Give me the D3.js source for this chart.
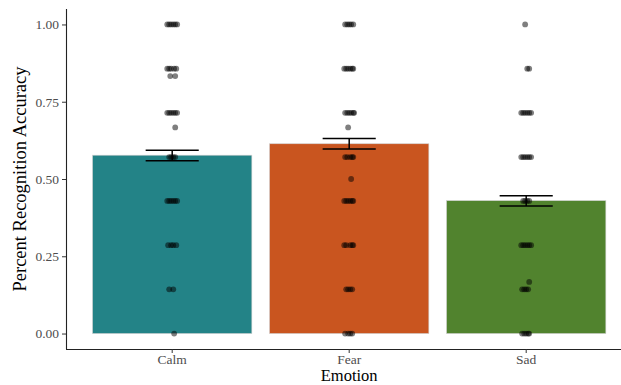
<!DOCTYPE html>
<html>
<head>
<meta charset="utf-8">
<script src="https://cdn.jsdelivr.net/npm/d3@7"></script>
<style>
  body { margin: 0; background: #fff; }
  svg { display: block; }
</style>
</head>
<body>
<svg id="chart" width="621" height="385"></svg>
<script>
// categories and summary values
var categories = ["Calm", "Fear", "Sad"];
var means = [0.577, 0.614, 0.430];
var errLow = [0.559, 0.597, 0.413];
var errHigh = [0.593, 0.631, 0.446];
var barColors = ["#238387", "#c9551f", "#51832e"];
var yTicks = [0, 0.25, 0.5, 0.75, 1];

// individual scores: [accuracy, horizontal jitter in category units]
var calmPoints = [
  [1, -0.028], [1, -0.017], [1, -0.006], [1, 0.006], [1, 0.017], [1, 0.028],
  [0.857, -0.028], [0.857, -0.017], [0.857, -0.006], [0.857, 0.011], [0.857, 0.023],
  [0.833, -0.011], [0.833, 0.017],
  [0.714, -0.028], [0.714, -0.017], [0.714, -0.006], [0.714, 0.006], [0.714, 0.017], [0.714, 0.028],
  [0.667, 0.017],
  [0.571, -0.017], [0.571, -0.006], [0.571, 0.006], [0.571, 0.017],
  [0.429, -0.028], [0.429, -0.017], [0.429, -0.006], [0.429, 0.006], [0.429, 0.017], [0.429, 0.028],
  [0.286, -0.023], [0.286, -0.006], [0.286, 0.006], [0.286, 0.023],
  [0.143, -0.017], [0.143, 0.006],
  [0, 0.011]
];
var fearPoints = [
  [1, -0.023], [1, -0.011], [1, 0], [1, 0.011], [1, 0.023],
  [0.857, -0.028], [0.857, -0.017], [0.857, -0.006], [0.857, 0.006], [0.857, 0.017], [0.857, 0.023],
  [0.714, -0.023], [0.714, -0.011], [0.714, 0], [0.714, 0.011], [0.714, 0.023], [0.714, 0.028],
  [0.667, -0.006],
  [0.571, -0.023], [0.571, -0.011], [0.571, 0.006], [0.571, 0.017], [0.571, 0.023],
  [0.5, 0.011],
  [0.429, -0.028], [0.429, -0.017], [0.429, -0.006], [0.429, 0.006], [0.429, 0.017], [0.429, 0.023],
  [0.286, -0.028], [0.286, -0.017], [0.286, 0.006], [0.286, 0.017], [0.286, 0.023],
  [0.143, -0.017], [0.143, -0.006], [0.143, 0.006], [0.143, 0.017],
  [0, -0.023], [0, -0.006], [0, 0.006], [0, 0.017]
];
var sadPoints = [
  [1, -0.006],
  [0.857, 0.006], [0.857, 0.017],
  [0.714, -0.028], [0.714, -0.017], [0.714, -0.006], [0.714, 0.006], [0.714, 0.017], [0.714, 0.028],
  [0.571, -0.028], [0.571, -0.017], [0.571, -0.006], [0.571, 0.006], [0.571, 0.017], [0.571, 0.028],
  [0.429, -0.017], [0.429, -0.006], [0.429, 0.006], [0.429, 0.017],
  [0.286, -0.028], [0.286, -0.017], [0.286, -0.006], [0.286, 0.006], [0.286, 0.017], [0.286, 0.028],
  [0.167, 0.017],
  [0.143, -0.023], [0.143, -0.011], [0.143, 0], [0.143, 0.011],
  [0, -0.023], [0, -0.011], [0, 0], [0, 0.011], [0, 0.017]
];

var data = categories.map(function(c, i) {
  return {name: c, mean: means[i], lo: errLow[i], hi: errHigh[i], color: barColors[i]};
});
var points = [];
[calmPoints, fearPoints, sadPoints].forEach(function(arr, i) {
  arr.forEach(function(p) { points.push({name: categories[i], value: p[0], jit: p[1]}); });
});

var serif = "'Liberation Serif', 'DejaVu Serif', serif";
var svg = d3.select("#chart"),
    left = 66, bottom = 349;

var x = d3.scaleBand().domain(categories).range([left, 632.4])
    .paddingInner(0.1).paddingOuter(0.15);
var step = x.step();
var cx = function(name) { return x(name) + x.bandwidth() / 2; };
var y = d3.scaleLinear().domain([-0.05, 1.05]).range([bottom, 9]);

// bars
svg.selectAll(".bar")
  .data(data)
  .enter().append("rect")
    .attr("class", "bar")
    .attr("x", function(d) { return x(d.name); })
    .attr("width", x.bandwidth())
    .attr("y", function(d) { return y(d.mean); })
    .attr("height", function(d) { return y(0) - y(d.mean); })
    .attr("fill", function(d) { return d.color; })
    .attr("stroke", "#d0d0d0")
    .attr("stroke-width", 0.6);

// jittered points
svg.selectAll(".pt")
  .data(points)
  .enter().append("circle")
    .attr("class", "pt")
    .attr("cx", function(d) { return cx(d.name) + d.jit * step; })
    .attr("cy", function(d) { return y(d.value); })
    .attr("r", 2.9)
    .attr("fill", "#000")
    .attr("fill-opacity", 0.5);

// error bars
var eb = svg.selectAll(".err")
  .data(data)
  .enter().append("g")
    .attr("class", "err")
    .attr("stroke", "#000")
    .attr("stroke-width", 1.5);
eb.append("line")
    .attr("x1", function(d) { return cx(d.name); })
    .attr("x2", function(d) { return cx(d.name); })
    .attr("y1", function(d) { return y(d.lo); })
    .attr("y2", function(d) { return y(d.hi); });
eb.append("line")
    .attr("x1", function(d) { return cx(d.name) - 0.15 * step; })
    .attr("x2", function(d) { return cx(d.name) + 0.15 * step; })
    .attr("y1", function(d) { return y(d.hi); })
    .attr("y2", function(d) { return y(d.hi); });
eb.append("line")
    .attr("x1", function(d) { return cx(d.name) - 0.15 * step; })
    .attr("x2", function(d) { return cx(d.name) + 0.15 * step; })
    .attr("y1", function(d) { return y(d.lo); })
    .attr("y2", function(d) { return y(d.lo); });

// axes
var yAxis = svg.append("g")
    .attr("transform", "translate(" + left + ",0)")
    .call(d3.axisLeft(y).tickValues(yTicks).tickFormat(d3.format(".2f")).tickSizeOuter(0).tickSize(4).tickPadding(3))
    .attr("font-family", serif)
    .attr("font-size", 13.5);
yAxis.select(".domain").attr("d", "M0.5," + bottom + "V9").attr("stroke", "#222").attr("stroke-width", 1.1);
yAxis.selectAll(".tick line").attr("stroke", "#333");
yAxis.selectAll("text").attr("fill", "#4d4d4d");

var xAxis = svg.append("g")
    .attr("transform", "translate(0," + bottom + ")")
    .call(d3.axisBottom(x).tickSizeOuter(0).tickSize(4).tickPadding(1))
    .attr("font-family", serif)
    .attr("font-size", 13.5);
xAxis.select(".domain").attr("d", "M" + left + ",0.5H632").attr("stroke", "#222").attr("stroke-width", 1.1);
xAxis.selectAll(".tick line").attr("stroke", "#333");
xAxis.selectAll("text").attr("fill", "#4d4d4d");

// axis titles
svg.append("text")
    .attr("transform", "translate(26," + y(0.5) + ") rotate(-90)")
    .attr("text-anchor", "middle")
    .attr("font-family", serif)
    .attr("font-size", 18.5)
    .text("Percent Recognition Accuracy");

svg.append("text")
    .attr("x", cx("Fear"))
    .attr("y", 380.5)
    .attr("text-anchor", "middle")
    .attr("font-family", serif)
    .attr("font-size", 16.5)
    .text("Emotion");
</script>
</body>
</html>
